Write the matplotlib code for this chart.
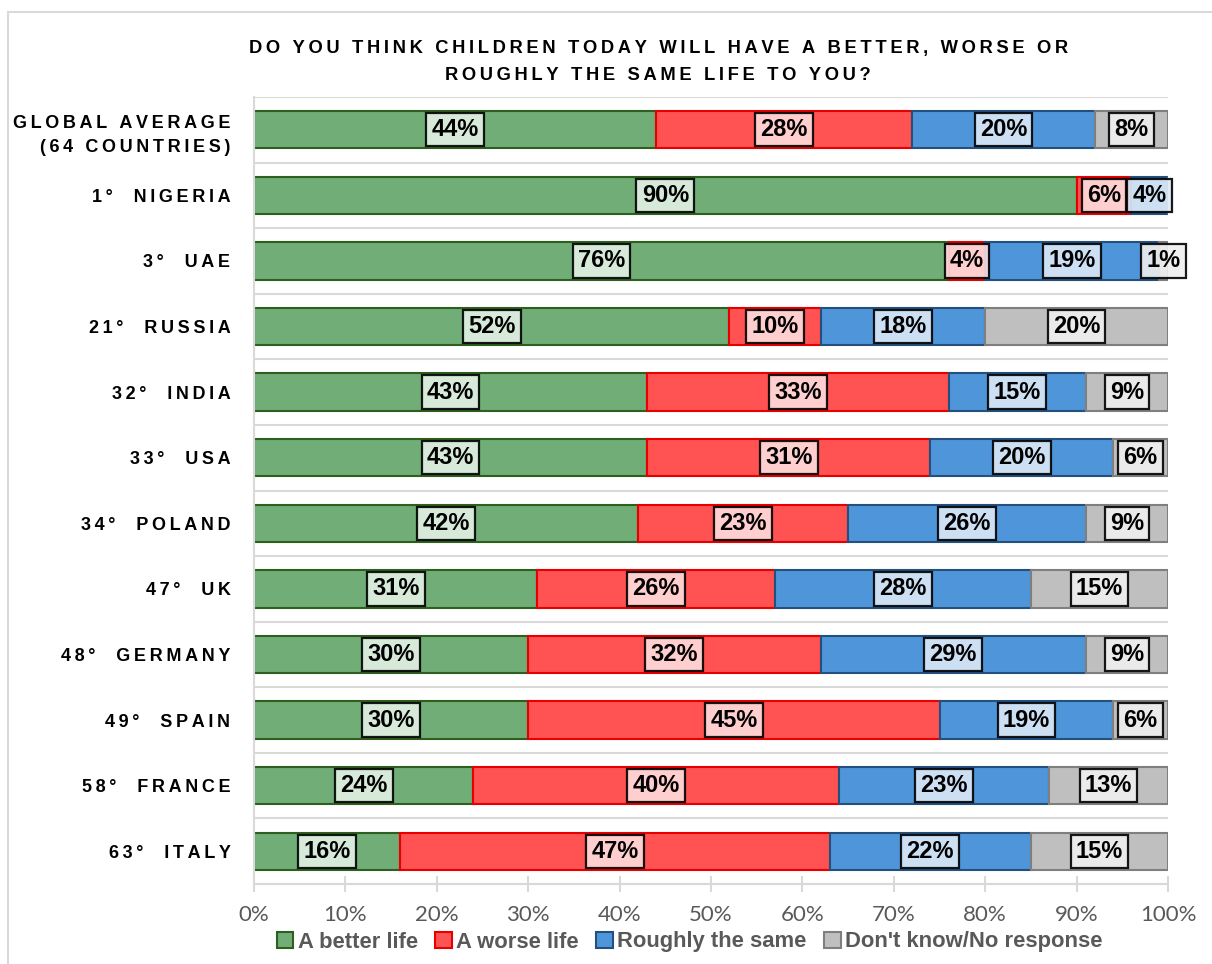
import matplotlib.pyplot as plt
from matplotlib.patches import Rectangle
import numpy as np

countries = ["GLOBAL AVERAGE\n(64 COUNTRIES)", "1°  NIGERIA", "3°  UAE", "21°  RUSSIA", "32°  INDIA",
             "33°  USA", "34°  POLAND", "47°  UK", "48°  GERMANY", "49°  SPAIN", "58°  FRANCE", "63°  ITALY"]
better = [44, 90, 76, 52, 43, 43, 42, 31, 30, 30, 24, 16]
worse = [28, 6, 4, 10, 33, 31, 23, 26, 32, 45, 40, 47]
same = [20, 4, 19, 18, 15, 20, 26, 28, 29, 19, 23, 22]
dontknow = [8, 0, 1, 20, 9, 6, 9, 15, 9, 6, 13, 15]
series_names = ["A better life", "A worse life", "Roughly the same", "Don't know/No response"]

face = ["#70AD77", "#FF5252", "#4F95D9", "#BFBFBF"]
edge = ["#2F5F1F", "#E80000", "#24507E", "#7F7F7F"]
box_fill = ["#E3F0E5", "#FFDCDC", "#DCE9F6", "#EFEFEF"]

THIN = "\u2009"


def spaced(s):
    return "\n".join(THIN.join(list(line)) for line in s.split("\n"))


fig = plt.figure(figsize=(12.12, 9.64), dpi=100)
ax = fig.add_axes([254 / 1212, 1 - 884 / 964, (1168 - 254) / 1212, (884 - 97) / 964])

# outer frame
fig.patches.append(Rectangle((8 / 1212, -0.1), 1.2, 0.1 + (964 - 12) / 964, transform=fig.transFigure,
                             fill=False, edgecolor="#D9D9D9", linewidth=1.5))

y = np.arange(len(countries))
data = [better, worse, same, dontknow]
left = np.zeros(len(countries))
for i, vals in enumerate(data):
    vals = np.array(vals, dtype=float)
    ax.barh(y, vals, left=left, height=0.57, color=face[i], edgecolor=edge[i], linewidth=1.5,
            label=series_names[i], zorder=2)
    for j, v in enumerate(vals):
        if v > 0:
            ax.text(left[j] + v / 2, y[j], f"{int(v)}%", ha="center", va="center", fontsize=17,
                    fontweight="bold", family="Liberation Sans", zorder=4,
                    bbox=dict(boxstyle="square,pad=0.22", facecolor=box_fill[i], edgecolor="black",
                              linewidth=1.6, alpha=0.9))
    left += vals

ax.set_xlim(0, 100)
ax.set_ylim(len(countries) - 0.5, -0.5)
ax.set_yticks(y)
ax.set_yticklabels([spaced(c) for c in countries], fontsize=13, fontweight="bold",
                   family=["Liberation Sans", "DejaVu Sans"], linespacing=1.55)
ax.tick_params(axis="y", length=0, pad=17)
ax.set_yticks(np.arange(len(countries) + 1) - 0.5, minor=True)
ax.grid(axis="y", which="minor", color="#D9D9D9", linewidth=1.5, zorder=0)
ax.tick_params(axis="y", which="minor", length=0)

ax.set_xticks(np.arange(0, 101, 10))
ax.set_xticklabels([f"{t}%" for t in range(0, 101, 10)], fontsize=16, color="#595959", family="Lato")
ax.tick_params(axis="x", direction="inout", length=12, color="#D9D9D9", width=1.5, pad=9)

for s in ["top", "right"]:
    ax.spines[s].set_visible(False)
ax.spines["bottom"].set_color("#D9D9D9")
ax.spines["bottom"].set_linewidth(1.5)
ax.spines["left"].set_color("#D9D9D9")
ax.spines["left"].set_linewidth(1.5)

fig.text(0.543, 1 - 48 / 964, spaced("DO YOU THINK CHILDREN TODAY WILL HAVE A BETTER, WORSE OR"),
         ha="center", va="center", fontsize=13.2, fontweight="bold", family=["Liberation Sans", "DejaVu Sans"])
fig.text(0.543, 1 - 75 / 964, spaced("ROUGHLY THE SAME LIFE TO YOU?"),
         ha="center", va="center", fontsize=13.2, fontweight="bold", family=["Liberation Sans", "DejaVu Sans"])

leg = fig.legend(loc="center", bbox_to_anchor=(0.569, 1 - 942 / 964), ncol=4, frameon=False,
                 handlelength=0.75, handleheight=0.75, handletextpad=0.2, columnspacing=0.8,
                 prop={"size": 15.8, "weight": "bold", "family": "Liberation Sans"})
for t in leg.get_texts():
    t.set_color("#595959")

plt.savefig("out.png", dpi=100)
plt.close()
